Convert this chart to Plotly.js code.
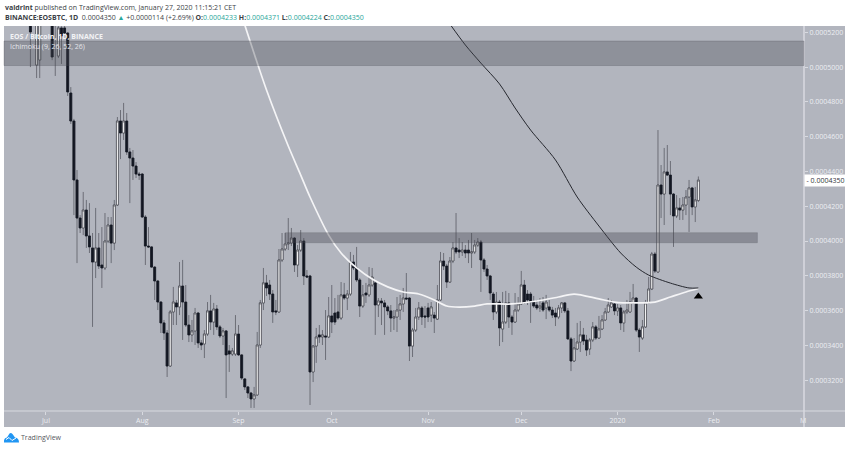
<!DOCTYPE html>
<html><head><meta charset="utf-8">
<script src="https://cdn.plot.ly/plotly-3.0.1.min.js"></script>
<style>html,body{margin:0;padding:0;background:#fff}#c{width:850px;height:449px}</style>
</head><body><div id="c"></div>
<script>
// Daily candles, in units of 0.0000001 BTC, starting on firstDay
const firstDay = '2019-06-26';
const PRICE_UNIT = 1e-7;
const opens = [5271,5330,5012,5041,5400,5380,5350,5328,5300,5064,5225,5225,5196,4851,4690,4351,4132,4075,4178,4029,3960,3879,3960,3862,3845,4000,4092,3988,4207,4690,4621,4690,4512,4477,4431,4385,4385,4138,3971,3966,3850,3770,3649,3529,3471,3281,3592,3644,3621,3741,3649,3517,3460,3483,3586,3414,3408,3465,3598,3534,3609,3506,3454,3483,3368,3350,3350,3465,3345,3207,3161,3126,3092,3115,3402,3644,3759,3747,3695,3598,3592,3891,3954,3983,3988,4017,3862,3948,4000,3799,3799,3247,3396,3460,3448,3454,3448,3569,3586,3592,3557,3690,3672,3695,3879,3845,3776,3626,3701,3690,3747,3759,3632,3655,3644,3621,3598,3557,3563,3603,3638,3672,3672,3396,3488,3563,3615,3569,3615,3574,3574,3551,3661,3885,3856,3764,3885,3960,3948,3937,3948,3948,3931,3937,3977,3994,3891,3839,3799,3695,3592,3649,3494,3534,3644,3563,3534,3603,3638,3747,3695,3695,3649,3632,3615,3644,3615,3621,3603,3586,3563,3615,3644,3598,3437,3310,3379,3419,3460,3431,3379,3431,3506,3442,3494,3546,3592,3621,3638,3598,3615,3529,3592,3592,3644,3672,3488,3442,3506,3644,3724,3925,3822,4322,4270,4397,4379,4270,4144,4190,4178,4207,4253,4305,4196,4233];
const highs = [5328,5450,5328,5350,5480,5450,5420,5400,5340,5250,5235,5248,5200,4885,4702,4408,4149,4282,4236,4218,4046,4190,4046,4080,4161,4138,4138,4236,4713,4753,4794,4736,4535,4523,4454,4397,4391,4149,4080,3971,3856,3776,3655,3546,3488,3603,3736,3661,3879,3891,3747,3574,3546,3615,3592,3431,3488,3649,3690,3644,3632,3517,3500,3488,3402,3385,3574,3517,3350,3212,3166,3132,3161,3477,3661,3845,3805,3776,3718,3661,3954,4046,4046,4132,4075,4023,3977,4063,4017,3833,3805,3402,3500,3517,3488,3603,3678,3747,3672,3690,3764,3759,3718,3937,3920,3966,3787,3747,3759,3850,3845,3776,3672,3672,3661,3632,3632,3603,3678,3690,3730,3816,3678,3500,3615,3649,3626,3626,3644,3649,3592,3747,3937,3931,3868,3908,3994,4161,4017,3994,3977,4006,4046,4006,4017,4006,3902,3862,3805,3707,3707,3661,3707,3713,3701,3574,3701,3678,3828,3776,3718,3707,3684,3661,3672,3678,3690,3661,3621,3615,3632,3649,3649,3615,3448,3442,3529,3540,3500,3460,3442,3534,3517,3569,3574,3615,3672,3661,3649,3638,3632,3603,3661,3707,3753,3678,3500,3546,3661,3793,3937,3937,4638,4437,4535,4552,4460,4276,4264,4247,4253,4293,4351,4311,4311,4371];
const lows = [5000,5300,4937,4937,5330,5320,5300,5040,4949,5052,5018,5190,4834,4673,4149,3873,4046,4034,3960,3931,3506,3787,3839,3730,3833,3988,3873,3948,4201,4471,4581,4495,4218,4351,4362,4351,4132,3862,3960,3845,3661,3603,3471,3431,3218,3276,3517,3517,3574,3431,3506,3419,3419,3402,3385,3373,3327,3454,3488,3460,3488,3442,3402,3097,3247,3339,3339,3339,3201,3143,3097,3040,3040,3109,3385,3603,3684,3661,3529,3574,3586,3879,3943,3948,3971,3822,3793,3937,3747,3787,3057,3189,3299,3414,3402,3316,3442,3471,3517,3546,3546,3661,3603,3684,3833,3764,3563,3615,3644,3678,3736,3460,3563,3517,3460,3574,3477,3488,3477,3546,3592,3661,3310,3333,3477,3546,3517,3500,3534,3534,3471,3546,3655,3833,3730,3759,3873,3925,3902,3914,3902,3873,3845,3925,3966,3707,3822,3776,3661,3546,3580,3396,3419,3523,3500,3460,3529,3592,3632,3638,3632,3529,3615,3603,3592,3592,3551,3592,3557,3511,3551,3586,3586,3431,3252,3304,3373,3362,3402,3339,3345,3419,3431,3437,3488,3540,3586,3615,3574,3569,3488,3477,3580,3586,3638,3477,3362,3431,3500,3638,3718,3816,3816,4132,4092,4374,4149,3966,4132,4121,4121,4149,4052,4149,4109,4224];
const closes = [5202,5400,5271,5300,5380,5350,5330,5058,5271,5225,5179,5196,4857,4690,4351,4132,4075,4178,4029,3966,3879,3960,3856,3845,4000,4092,3988,4207,4690,4621,4690,4512,4477,4431,4385,4379,4138,3971,3966,3850,3770,3649,3529,3471,3281,3592,3649,3621,3741,3649,3517,3460,3483,3586,3414,3402,3465,3598,3534,3609,3506,3454,3483,3345,3350,3368,3465,3345,3212,3161,3126,3092,3115,3402,3644,3759,3730,3695,3592,3592,3891,3954,3983,3988,4017,3862,3948,4000,3799,3793,3247,3396,3448,3448,3460,3448,3569,3534,3534,3557,3690,3672,3695,3879,3845,3776,3626,3690,3690,3747,3793,3632,3655,3644,3621,3598,3557,3563,3603,3638,3672,3667,3396,3488,3563,3615,3563,3563,3563,3621,3557,3661,3885,3856,3764,3885,3960,3937,3937,3948,3931,3931,3937,3977,3994,3891,3839,3799,3701,3592,3649,3500,3534,3644,3563,3534,3603,3638,3747,3649,3661,3649,3626,3615,3626,3603,3649,3603,3574,3563,3615,3644,3598,3437,3310,3385,3419,3460,3425,3373,3431,3506,3442,3494,3546,3592,3632,3644,3598,3615,3529,3592,3603,3649,3672,3488,3448,3506,3644,3724,3925,3827,4322,4270,4397,4379,4270,4144,4190,4178,4207,4253,4305,4196,4236,4350];

// Moving averages, read at the listed days (same unit)
const fastDays = ['2019-09-03','2019-09-10','2019-09-17','2019-09-21','2019-09-24','2019-09-30','2019-10-04','2019-10-09','2019-10-14','2019-10-19','2019-10-24','2019-10-29','2019-11-03','2019-11-07','2019-11-11','2019-11-16','2019-11-20','2019-11-28','2019-12-06','2019-12-13','2019-12-18','2019-12-26','2019-12-31','2020-01-07','2020-01-13','2020-01-18','2020-01-23','2020-01-27'];
const fastValues = [5242,4868,4546,4379,4253,4034,3931,3845,3781,3736,3707,3695,3661,3626,3620,3626,3638,3638,3655,3678,3695,3667,3649,3644,3649,3678,3707,3727];
const slowDays = ['2019-11-08','2019-11-13','2019-11-18','2019-11-24','2019-11-29','2019-12-04','2019-12-12','2019-12-19','2019-12-26','2020-01-02','2020-01-07','2020-01-11','2020-01-18','2020-01-24','2020-01-27'];
const slowValues = [5248,5127,5023,4903,4765,4638,4466,4253,4086,3931,3850,3804,3758,3730,3730];

// Axis labels
const yTicks = [5200,5000,4800,4600,4400,4200,4000,3800,3600,3400,3200];
const yLabels = ['0.0005200','0.0005000','0.0004800','0.0004600','0.0004400','0.0004200','0.0004000','0.0003800','0.0003600','0.0003400','0.0003200'];
const xTicks = ['2019-07-01','2019-08-01','2019-09-01','2019-10-01','2019-11-01','2019-12-01','2020-01-01','2020-02-01'];
const xLabels = ['Jul','Aug','Sep','Oct','Nov','Dec','2020','Feb'];

// Zones and marker
const topZone = [5009,5150];
const midZone = {start:'2019-09-16', end:'2020-02-15', low:3990, high:4048};
const lastPrice = 4350;
const markerDay = '2020-01-27', markerValue = 3681;

const dates = opens.map((_, i) => {
  const d = new Date(firstDay + 'T00:00:00Z');
  d.setUTCDate(d.getUTCDate() + i);
  return d.toISOString().slice(0, 10);
});
const px = a => a.map(v => v * PRICE_UNIT);

// page-pixel helpers for chrome placed outside the plot area
const W = 800, H = 385, L = 4, B = 411;
const fx = x => (x - L) / W, fy = y => (B - y) / H;
const panelBg = '#b2b5be', axisLine = '#d8dae0', axisText = '#eceef2';
const FONT = '"Open Sans", sans-serif';
const note = (x, y, text, size, color, extra) => Object.assign({
  xref:'paper', yref:'paper', x:fx(x), y:fy(y), xanchor:'left', yanchor:'middle',
  showarrow:false, text, borderpad:0, font:{family:FONT, size, color}
}, extra || {});
const pathP = s => s.replace(/(-?[\d.]+),(-?[\d.]+)/g, (m, a, b) => fx(+a) + ',' + fy(+b));

const bodyTop = opens.map((o, i) => Math.max(o, closes[i]));
const bodyBot = opens.map((o, i) => Math.min(o, closes[i]));

const traces = [
  // wicks: gray candles with full range
  {type:'candlestick', x:dates, open:px(opens), high:px(highs), low:px(lows), close:px(closes),
   whiskerwidth:0, hoverinfo:'skip', showlegend:false,
   increasing:{line:{color:'#6c6e77', width:1}, fillcolor:'#6c6e77'},
   decreasing:{line:{color:'#6c6e77', width:1}, fillcolor:'#6c6e77'}},
  // bodies on top: same open and close, no wick beyond them
  {type:'candlestick', x:dates, open:px(opens), high:px(bodyTop), low:px(bodyBot), close:px(closes),
   whiskerwidth:0, hoverinfo:'skip', showlegend:false,
   increasing:{line:{color:'#43454d', width:0.7}, fillcolor:'#ffffff'},
   decreasing:{line:{color:'#131722', width:0.7}, fillcolor:'#131722'}},
  {type:'scatter', mode:'lines', x:fastDays, y:px(fastValues), line:{color:'#f4f4f6', width:1.7, shape:'spline', smoothing:0.8}, hoverinfo:'skip', showlegend:false},
  {type:'scatter', mode:'lines', x:slowDays, y:px(slowValues), line:{color:'#26282f', width:1, shape:'spline', smoothing:0.8}, hoverinfo:'skip', showlegend:false},
  {type:'scatter', mode:'markers', x:[markerDay], y:[markerValue*PRICE_UNIT], marker:{symbol:'triangle-up', size:8, color:'#000000'}, hoverinfo:'skip', showlegend:false}
];

const teal = '#26a69a';
const val = s => '<span style="color:' + teal + '">' + s + '</span>';
const layout = {
  width:850, height:449, autosize:false,
  margin:{l:L, r:850-L-W, t:26, b:449-B, pad:0},
  paper_bgcolor:'#ffffff', plot_bgcolor:'rgba(0,0,0,0)', showlegend:false, dragmode:false,
  boxgap:0.12, boxmode:'overlay',
  xaxis:{type:'date', range:['2019-06-17 12:00','2020-03-01 00:00'], rangeslider:{visible:false},
    tickmode:'array', tickvals:xTicks, ticktext:xLabels, ticks:'outside', ticklen:3, tickcolor:axisLine,
    tickfont:{family:FONT, size:7, color:axisText}, showgrid:false, zeroline:false, showline:false, fixedrange:true},
  yaxis:{range:[3022.5*PRICE_UNIT,5236.25*PRICE_UNIT], side:'right', tickmode:'array',
    tickvals:px(yTicks), ticktext:yLabels, ticks:'outside', ticklen:3, tickcolor:axisLine,
    tickfont:{family:FONT, size:7, color:axisText}, showgrid:false, zeroline:false, showline:false, fixedrange:true},
  shapes:[
    {type:'rect', layer:'below', xref:'paper', yref:'paper', x0:0, x1:fx(845), y0:fy(427), y1:fy(26), fillcolor:panelBg, line:{width:0}},
    {type:'rect', layer:'above', xref:'paper', yref:'y', x0:0, x1:1, y0:topZone[0]*PRICE_UNIT, y1:topZone[1]*PRICE_UNIT, fillcolor:'rgba(70,72,82,0.33)', line:{color:'rgba(70,72,82,0.25)', width:1}},
    {type:'rect', layer:'above', xref:'x', yref:'y', x0:midZone.start, x1:midZone.end, y0:midZone.low*PRICE_UNIT, y1:midZone.high*PRICE_UNIT, fillcolor:'rgba(70,72,82,0.38)', line:{color:'rgba(70,72,82,0.2)', width:1}},
    {type:'line', layer:'below', xref:'paper', yref:'paper', x0:fx(804), x1:fx(804), y0:fy(427), y1:fy(26), line:{color:axisLine, width:1.5}},
    {type:'line', layer:'below', xref:'paper', yref:'paper', x0:0, x1:fx(845), y0:0, y1:0, line:{color:axisLine, width:1}},
    {type:'path', layer:'above', xref:'paper', yref:'paper', path:pathP('M 4,442.5 Q 3.5,438 7,437.5 L 9.5,433.5 Q 11,432.5 12.5,434 L 15,437.5 Q 19,438 19,442.5 Z'), fillcolor:'#2196f3', line:{width:0}},
    {type:'path', layer:'above', xref:'paper', yref:'paper', path:pathP('M 6,439.5 L 9,437.5 L 12,440.5 L 16,438'), line:{color:'#ffffff', width:1}}
  ],
  annotations:[
    note(3.5, 8, '<b>valdrint</b> published on TradingView.com, January 27, 2020 11:15:21 CET', 7, '#3c3f46'),
    note(3.5, 18, '<b>BINANCE:EOSBTC, 1D</b>  0.0004350 <span style="color:'+teal+'">▲</span> +0.0000114 (+2.69%) <b>O:</b>'+val('0.0004233')+' <b>H:</b>'+val('0.0004371')+' <b>L:</b>'+val('0.0004224')+' <b>C:</b>'+val('0.0004350'), 7, '#3c3f46'),
    note(9, 36, '<b>EOS / Bitcoin, 1D, BINANCE</b>', 7, '#f2f3f5'),
    note(9, 46.5, 'Ichimoku (9, 26, 52, 26)', 7, '#e4e5ea'),
    note(798.5, 420.5, 'M', 7, axisText),
    note(20, 437.5, 'TradingView', 7, '#555860'),
    {xref:'paper', yref:'y', x:fx(803.5), y:lastPrice*PRICE_UNIT, xanchor:'left', yanchor:'middle', showarrow:false,
     text:'- 0.0004350', width:41, height:10.5, align:'center', bgcolor:'#ffffff', borderpad:0, font:{family:FONT, size:7, color:'#33363d'}}
  ]
};
Plotly.newPlot('c', traces, layout, {staticPlot:true, displayModeBar:false});
</script>
</body></html>
